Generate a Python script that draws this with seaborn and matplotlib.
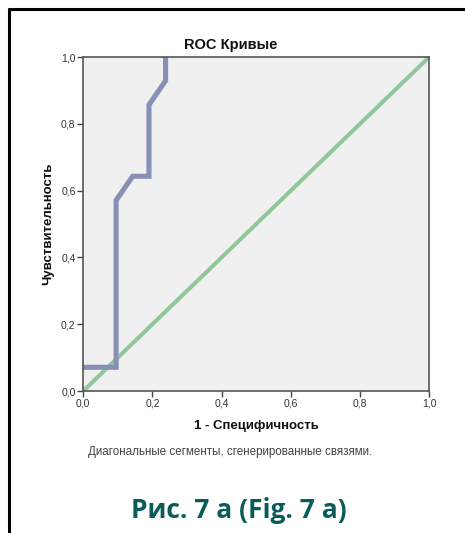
import matplotlib
matplotlib.use("Agg")
import matplotlib.pyplot as plt
from matplotlib.lines import Line2D
from matplotlib.ticker import FuncFormatter
import seaborn as sns
import pandas as pd

# ROC curve coordinates (1 - specificity, sensitivity)
fpr = [0.0, 0.095, 0.095, 0.143, 0.190, 0.190, 0.238, 0.238]
tpr = [0.071, 0.071, 0.571, 0.643, 0.643, 0.857, 0.929, 1.0]
ref_x = [0.0, 1.0]
ref_y = [0.0, 1.0]
ticks = [0.0, 0.2, 0.4, 0.6, 0.8, 1.0]

title = "ROC Кривые"
xlabel = "1 - Специфичность"
ylabel = "Чувствительность"
note = "Диагональные сегменты, сгенерированные связями."
caption = "Рис. 7 а (Fig. 7 а)"

sns.set_theme(style="white")
plt.rcParams["font.family"] = ["Liberation Sans", "DejaVu Sans"]

fig = plt.figure(figsize=(4.65, 5.33), dpi=100)
ax = fig.add_axes([0.179, 0.2664, 0.744, 0.6266])
ax.set_facecolor("#f0f0f0")

roc = pd.DataFrame({"fpr": fpr, "tpr": tpr})
diag = pd.DataFrame({"x": ref_x, "y": ref_y})
sns.lineplot(data=diag, x="x", y="y", ax=ax, color="#8fc79a", linewidth=2.9,
             sort=False, estimator=None, zorder=2)
sns.lineplot(data=roc, x="fpr", y="tpr", ax=ax, color="#8990b6", linewidth=3.7,
             sort=False, estimator=None, zorder=3, solid_joinstyle="miter")

ax.set_xlim(0, 1)
ax.set_ylim(0, 1)
ax.set_xticks(ticks)
ax.set_yticks(ticks)
fmt = FuncFormatter(lambda v, p: f"{v:.1f}".replace(".", ","))
ax.xaxis.set_major_formatter(fmt)
ax.yaxis.set_major_formatter(fmt)
ax.tick_params(axis="both", which="major", direction="out", length=4, width=1,
               color="#444444", labelsize=7.5, labelcolor="#333333", pad=1.5,
               bottom=True, left=True)
for s in ax.spines.values():
    s.set_color("#555555")
    s.set_linewidth(1.2)
    s.set_zorder(4)

ax.set_xlabel(xlabel, fontsize=9.5, fontweight="bold", color="#111111", labelpad=8)
ax.set_ylabel(ylabel, fontsize=9.5, fontweight="bold", color="#111111", labelpad=5)

fig.text(231 / 465, 1 - 45 / 533, title, fontsize=10.5, fontweight="bold",
         color="#111111", ha="center", va="center")
fig.text(88 / 465, 1 - 452 / 533, note, fontsize=8.4, color="#444444",
         ha="left", va="center")
fig.text(239 / 465, 1 - 510 / 533, caption, fontsize=19, fontweight="bold",
         color="#0c5b5b", ha="center", va="center",
         family=["Open Sans", "DejaVu Sans"])

# page frame: top and left rules
fig.add_artist(Line2D([8.5 / 465, 1.0], [1 - 9 / 533, 1 - 9 / 533],
                      color="black", linewidth=2.2))
fig.add_artist(Line2D([8.5 / 465, 8.5 / 465], [0.0, 1 - 9 / 533],
                      color="black", linewidth=2.2))

fig.savefig("out.png", dpi=100, facecolor="white")
